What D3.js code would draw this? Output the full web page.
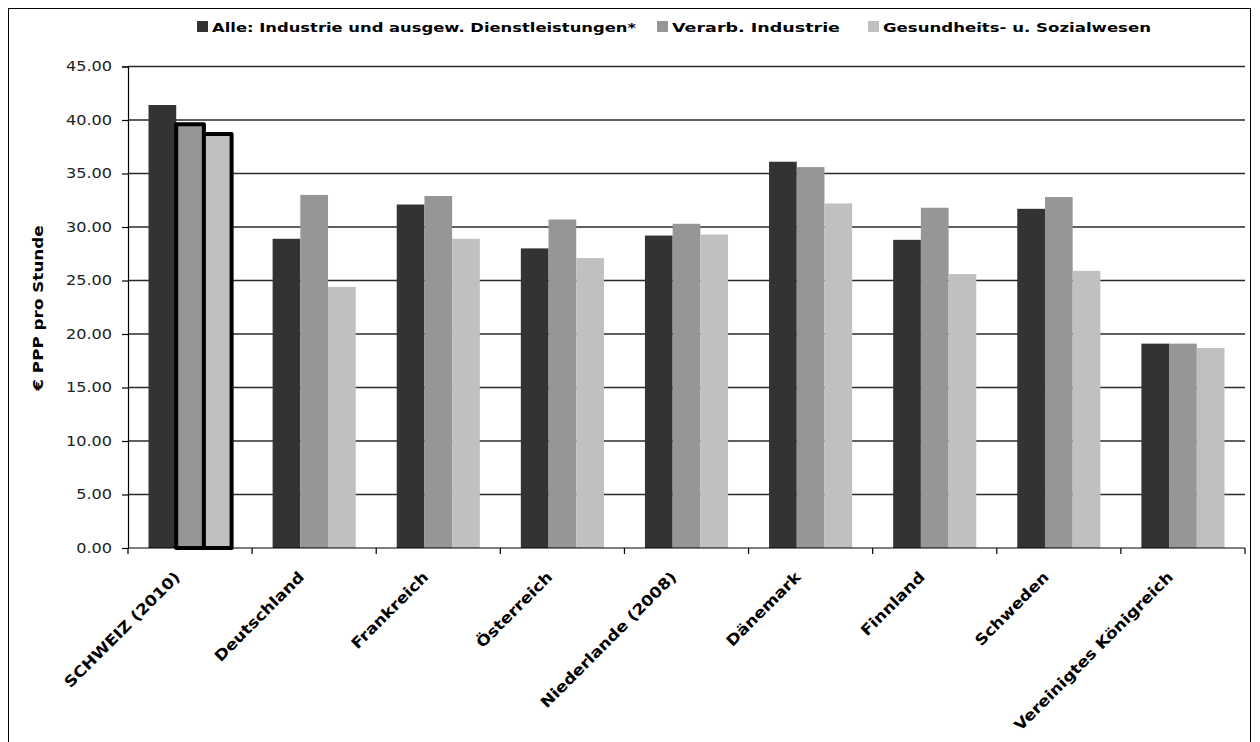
<!DOCTYPE html>
<html><head><meta charset="utf-8">
<script src="https://cdn.jsdelivr.net/npm/d3@7"></script>
<style>body{margin:0;background:#fff}svg{display:block}</style>
</head><body>
<svg id="c" width="1260" height="742"></svg>
<script>
const categories = ["SCHWEIZ (2010)","Deutschland","Frankreich","Österreich","Niederlande (2008)","Dänemark","Finnland","Schweden","Vereinigtes Königreich"];
const seriesNames = ["Alle: Industrie und ausgew. Dienstleistungen*","Verarb. Industrie","Gesundheits- u. Sozialwesen"];
const alle =        [41.4, 28.9, 32.1, 28.0, 29.2, 36.1, 28.8, 31.7, 19.1];
const verarb =      [39.6, 33.0, 32.9, 30.7, 30.3, 35.6, 31.8, 32.8, 19.1];
const gesundheit =  [38.7, 24.4, 28.9, 27.1, 29.3, 32.2, 25.6, 25.9, 18.7];
const yTicks = [0,5,10,15,20,25,30,35,40,45];
const colors = ["#333333","#969696","#c0c0c0"];
const seriesValues = [alle, verarb, gesundheit];

const svg = d3.select("#c");
const L = 128, R = 1245, T = 66.5, B = 548;
const FONT = "DejaVu Sans, Verdana, sans-serif";

// outer border
svg.append("rect").attr("x",8.5).attr("y",8.5).attr("width",1242).attr("height",760)
  .attr("fill","none").attr("stroke","#000").attr("stroke-width",1);

const x0 = d3.scaleBand().domain(categories).range([L,R]).padding(0);
const x1 = d3.scaleBand().domain(seriesNames).range([0,x0.bandwidth()]).paddingInner(0).paddingOuter(0.74);
const y = d3.scaleLinear().domain([0,45]).range([B,T]);

// gridlines
svg.append("g").selectAll("line").data(yTicks.slice(1)).join("line")
  .attr("x1",L).attr("x2",R).attr("y1",d=>y(d)).attr("y2",d=>y(d))
  .attr("stroke","#2a2a2a").attr("stroke-width",1.4);

// bars
const data = [];
categories.forEach((c,i)=>seriesNames.forEach((s,j)=>data.push({c,s,j,i,v:seriesValues[j][i]})));
svg.append("g").selectAll("rect").data(data).join("rect")
  .attr("x",d=>x0(d.c)+x1(d.s)).attr("width",x1.bandwidth())
  .attr("y",d=>y(d.v)).attr("height",d=>B-y(d.v))
  .attr("fill",d=>colors[d.j]);
// highlighted Schweiz bars
svg.append("g").selectAll("rect").data(data.filter(d=>d.i===0 && d.j>0)).join("rect")
  .attr("x",d=>x0(d.c)+x1(d.s)).attr("width",x1.bandwidth())
  .attr("y",d=>y(d.v)).attr("height",d=>B-y(d.v))
  .attr("fill",d=>colors[d.j]).attr("stroke","#000").attr("stroke-width",4).attr("stroke-linejoin","round");

// y axis
const yAxis = svg.append("g").attr("transform",`translate(${L},0)`)
  .call(d3.axisLeft(y).tickValues(yTicks).tickFormat(d3.format(".2f")).tickSize(6).tickPadding(10));
yAxis.select(".domain").attr("stroke","#000").attr("stroke-width",1.2);
yAxis.selectAll(".tick line").attr("stroke","#000").attr("stroke-width",1.2);
yAxis.selectAll(".tick text").attr("font-family",FONT).attr("font-size","14px").attr("fill","#222")
  .each(function(){
    const t=d3.select(this); const xx=+t.attr("x");
    t.attr("transform",`translate(${xx},0) scale(1.15,1) translate(${-xx},0)`);
  });

// x axis
const xAxis = svg.append("g").attr("transform",`translate(0,${B})`);
xAxis.append("line").attr("x1",L).attr("x2",R).attr("stroke","#000").attr("stroke-width",1.2);
xAxis.selectAll("line.t").data(d3.range(categories.length+1)).join("line").attr("class","t")
  .attr("x1",i=>L+i*x0.step()).attr("x2",i=>L+i*x0.step()).attr("y1",0).attr("y2",6)
  .attr("stroke","#000").attr("stroke-width",1.2);
xAxis.selectAll("text").data(categories).join("text")
  .attr("transform",d=>`translate(${x0(d)+x0.bandwidth()/2-9},${30}) rotate(-45) scale(1.13,1)`)
  .attr("text-anchor","end").attr("font-family",FONT)
  .attr("font-weight","bold").attr("font-size","15px").attr("fill","#000").text(d=>d);

// y title
svg.append("text").attr("transform","translate(43,308) rotate(-90) scale(1.2,1)").attr("text-anchor","middle")
  .attr("font-family",FONT).attr("font-weight","bold").attr("font-size","14px")
  .text("€ PPP pro Stunde");

// legend
const legX = [197, 657, 868];
const legW = [439, 183, 283];
const lg = svg.append("g");
seriesNames.forEach((s,j)=>{
  lg.append("rect").attr("x",legX[j]).attr("y",21).attr("width",11).attr("height",11).attr("fill",colors[j]);
  lg.append("text").attr("x",legX[j]+15).attr("y",32).attr("font-family",FONT)
    .attr("font-weight","bold").attr("font-size","13px").attr("textLength",legW[j]-15).attr("lengthAdjust","spacingAndGlyphs").text(s);
});
</script>
</body></html>
